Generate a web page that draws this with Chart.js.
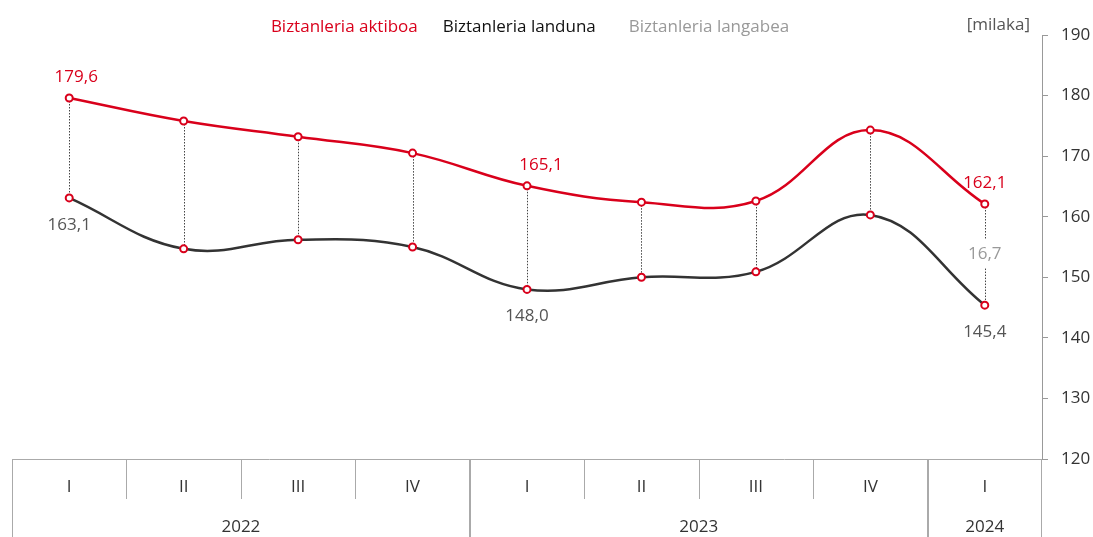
<!DOCTYPE html>
<html>
<head>
<meta charset="utf-8">
<script src="https://cdn.jsdelivr.net/npm/chart.js"></script>
<style>
  html, body { margin: 0; padding: 0; background: #fff; }
  #wrap { width: 1093px; height: 537px; position: relative; }
</style>
</head>
<body>
<div id="wrap"><canvas id="chart"></canvas></div>
<script>
// Data
const quarters = ['I', 'II', 'III', 'IV', 'I', 'II', 'III', 'IV', 'I'];
const years = ['2022', '2023', '2024'];
const yearSpans = [4, 4, 1];
const aktiboa = [179.6, 175.8, 173.2, 170.5, 165.1, 162.4, 162.6, 174.3, 162.1];
const landuna = [163.1, 154.7, 156.2, 155.0, 148.0, 150.0, 150.9, 160.3, 145.4];
const langabea = [null, null, null, null, null, null, null, null, 16.7];
const labelled = [0, 4, 8];
const labelShift = { 0: 7, 4: 14, 8: 0 };   // small nudge of the upper labels, as in the original

const RED = '#d9001b';
const DARK = '#333333';
const GREY = '#999999';
const FONT = "'Open Sans', 'Noto Sans', sans-serif";
const FS = 17;

const fmt = v => v.toFixed(1).replace('.', ',');

// legend, dotted connectors, value labels and the two-level category axis
const extras = {
  id: 'extras',
  beforeDatasetsDraw(chart) {
    const ctx = chart.ctx;
    const x = chart.scales.x, y = chart.scales.y;
    ctx.save();
    ctx.strokeStyle = '#444';
    ctx.lineWidth = 1;
    ctx.setLineDash([1.5, 1.5]);
    aktiboa.forEach((v, i) => {
      const px = Math.round(x.getPixelForValue(i)) + 0.5;
      const y1 = y.getPixelForValue(v);
      const y2 = y.getPixelForValue(landuna[i]);
      ctx.beginPath();
      if (langabea[i] != null) {
        const mid = (y1 + y2) / 2;
        ctx.moveTo(px, y1); ctx.lineTo(px, mid - 15);
        ctx.moveTo(px, mid + 14); ctx.lineTo(px, y2);
      } else {
        ctx.moveTo(px, y1); ctx.lineTo(px, y2);
      }
      ctx.stroke();
    });
    ctx.restore();
  },
  afterDatasetsDraw(chart) {
    const ctx = chart.ctx;
    const x = chart.scales.x, y = chart.scales.y;
    const area = chart.chartArea;
    const H = chart.height;
    ctx.save();
    ctx.font = FS + 'px ' + FONT;
    ctx.textAlign = 'center';
    ctx.textBaseline = 'middle';

    // value labels
    labelled.forEach(i => {
      const px = x.getPixelForValue(i);
      ctx.fillStyle = RED;
      ctx.fillText(fmt(aktiboa[i]), px + labelShift[i], y.getPixelForValue(aktiboa[i]) - 21);
      ctx.fillStyle = '#555';
      ctx.fillText(fmt(landuna[i]), px, y.getPixelForValue(landuna[i]) + 27);
      if (langabea[i] != null) {
        ctx.fillStyle = GREY;
        const mid = (y.getPixelForValue(aktiboa[i]) + y.getPixelForValue(landuna[i])) / 2;
        ctx.fillText(fmt(langabea[i]), px, mid);
      }
    });

    // legend
    const items = [['Biztanleria aktiboa', RED], ['Biztanleria landuna', '#111'], ['Biztanleria langabea', GREY]];
    const gaps = [25, 33];
    const widths = items.map(it => ctx.measureText(it[0]).width);
    const total = widths.reduce((a, b) => a + b, 0) + gaps[0] + gaps[1];
    let lx = (area.left + area.right) / 2 + 3 - total / 2;
    ctx.textAlign = 'left';
    items.forEach((it, k) => {
      ctx.fillStyle = it[1];
      ctx.fillText(it[0], lx, 27);
      lx += widths[k] + (gaps[k] || 0);
    });
    ctx.textAlign = 'right';
    ctx.fillStyle = '#555';
    ctx.fillText('[milaka]', area.right - 12, 25);

    // category axis boxes
    const half = (x.getPixelForValue(1) - x.getPixelForValue(0)) / 2;
    const top = area.bottom;
    const rowH = 40;
    ctx.strokeStyle = '#aaa';
    ctx.lineWidth = 1;
    ctx.setLineDash([]);
    ctx.beginPath();
    ctx.moveTo(area.left, top + 0.5); ctx.lineTo(area.right, top + 0.5);
    ctx.stroke();
    ctx.textAlign = 'center';
    ctx.fillStyle = DARK;
    let start = 0;
    yearSpans.forEach((span, k) => {
      const xl = x.getPixelForValue(start) - half;
      const xr = x.getPixelForValue(start + span - 1) + half;
      ctx.beginPath();
      ctx.moveTo(Math.round(xl) + 0.5, top); ctx.lineTo(Math.round(xl) + 0.5, H);
      ctx.moveTo(Math.round(xr) - 0.5, top); ctx.lineTo(Math.round(xr) - 0.5, H);
      ctx.stroke();
      for (let j = start; j < start + span; j++) {
        if (j > start) {
          const sx = Math.round(x.getPixelForValue(j) - half) + 0.5;
          ctx.beginPath();
          ctx.moveTo(sx, top); ctx.lineTo(sx, top + rowH);
          ctx.stroke();
        }
        ctx.fillText(quarters[j], x.getPixelForValue(j), top + 28);
      }
      ctx.fillText(years[k], (xl + xr) / 2, top + 68);
      start += span;
    });
    ctx.restore();
  }
};

const ctx = document.getElementById('chart').getContext('2d');
const chart = new Chart(ctx, {
  type: 'line',
  data: {
    labels: quarters,
    datasets: [
      {
        label: 'Biztanleria aktiboa',
        data: aktiboa,
        borderColor: RED,
        borderWidth: 2.5,
        tension: 0.4,
        pointRadius: 3.5,
        pointBorderWidth: 2,
        pointBorderColor: RED,
        pointBackgroundColor: '#fff'
      },
      {
        label: 'Biztanleria landuna',
        data: landuna,
        borderColor: DARK,
        borderWidth: 2.5,
        tension: 0.4,
        pointRadius: 3.5,
        pointBorderWidth: 2,
        pointBorderColor: RED,
        pointBackgroundColor: '#fff'
      }
    ]
  },
  options: {
    responsive: true,
    maintainAspectRatio: false,
    animation: false,
    layout: { padding: { left: 12, top: 35, bottom: 78, right: 0 } },
    plugins: {
      legend: { display: false },
      tooltip: { enabled: false }
    },
    scales: {
      x: { display: false, offset: true },
      y: {
        position: 'right',
        min: 120,
        max: 190,
        ticks: { stepSize: 10, color: DARK, padding: 13, font: { size: FS, family: FONT } },
        grid: { drawOnChartArea: false, tickLength: 6, color: GREY },
        border: { color: GREY },
        afterFit(s) { s.width = 51; }
      }
    }
  },
  plugins: [extras]
});
</script>
</body>
</html>
